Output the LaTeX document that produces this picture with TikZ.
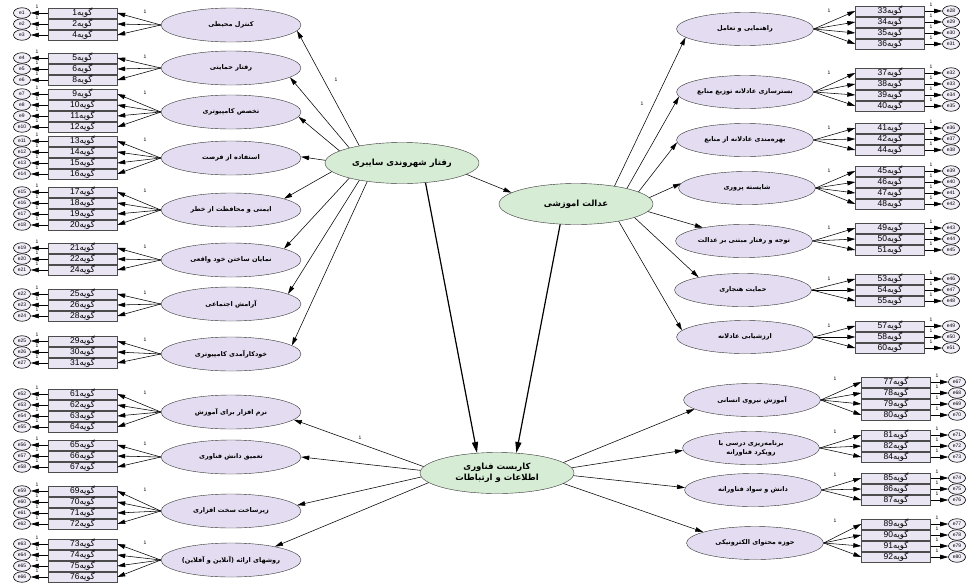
\documentclass[tikz,border=0pt]{standalone}
\usepackage{fontspec}
\setmainfont{Liberation Sans}
\newfontfamily\farsi[Script=Arabic]{DejaVu Sans}
\TeXXeTstate=1
\usetikzlibrary{shapes.geometric,arrows.meta}
\definecolor{latfill}{RGB}{228,221,241}
\definecolor{mainfill}{RGB}{214,236,212}
\definecolor{boxfill}{RGB}{234,229,243}
\definecolor{errfill}{RGB}{242,238,248}
\newcommand{\gv}[1]{#1{\farsi\beginR گویه\endR}}
\newcommand{\fz}[1]{\makebox[0pt]{\farsi\bfseries\beginR #1\endR}}
\tikzset{
  obs/.style={draw=black!70, fill=boxfill, minimum width=69pt, minimum height=10pt, inner sep=0pt, font=\fontsize{8.5}{8.5}\selectfont},
  err/.style={ellipse, draw, line width=0.6pt, fill=errfill, minimum width=17pt, minimum height=10.5pt, inner sep=0pt, font=\fontsize{5}{5}\selectfont},
  latL/.style={ellipse, draw=black!80, fill=latfill, minimum width=140pt, minimum height=34pt, inner sep=0pt, font=\fontsize{6.5}{9}\selectfont, align=center},
  latR/.style={latL, minimum width=137pt, minimum height=33pt},
  main/.style={ellipse, draw=black!80, fill=mainfill, minimum width=154pt, minimum height=41pt, inner sep=0pt, font=\fontsize{8.5}{11}\selectfont, align=center},
  arr/.style={-{Triangle[length=8pt,width=4.5pt]}, line width=0.55pt},
  big/.style={-{Triangle[length=11pt,width=6pt]}, line width=1.2pt},
  one/.style={font=\fontsize{5}{5}\selectfont, inner sep=0pt}
}
\begin{document}
\begin{tikzpicture}[x=1pt,y=-1pt]
\useasboundingbox (0,0) rectangle (973,584);
% latent variables
\node[main] (cyber) at (402,163) {\fz{رفتار شهروندی سایبری}};
\node[main] (edu) at (576,204) {\fz{عدالت اموزشی}};
\node[main] (ict) at (497,473) {\fz{کاربست فناوری}\\\fz{اطلاعات و ارتباطات}};

\node[latL] (l1) at (231,25) {\fz{کنترل محیطی}};
\node[latL] (l2) at (231,68) {\fz{رفتار حمایتی}};
\node[latL] (l3) at (231,112) {\fz{تخصص کامپیوتری}};
\node[latL] (l4) at (231,158) {\fz{استفاده از فرصت}};
\node[latL] (l5) at (231,210) {\fz{ایمنی و محافظت از خطر}};
\node[latL] (l6) at (231,260) {\fz{نمایان ساختن خود واقعی}};
\node[latL] (l7) at (231,304) {\fz{آرامش اجتماعی}};
\node[latL] (l8) at (231,354) {\fz{خودکارآمدی کامپیوتری}};
\node[latL] (l9) at (231,412) {\fz{نرم افزار برای آموزش}};
\node[latL] (l10) at (231,457) {\fz{تعمیق دانش فناوری}};
\node[latL] (l11) at (231,511) {\fz{زیرساخت سخت افزاری}};
\node[latL] (l12) at (231,560) {\fz{روشهای ارائه (آنلاین و آفلاین)}};

\node[latR] (r1) at (745,29) {\fz{راهنمایی و تعامل}};
\node[latR] (r2) at (745,92) {\fz{بسترسازی عادلانه توزیع منابع}};
\node[latR] (r3) at (745,140) {\fz{بهره‌مندی عادلانه از منابع}};
\node[latR] (r4) at (747,188) {\fz{شایسته پروری}};
\node[latR] (r5) at (744,241) {\fz{توجه و رفتار مبتنی بر عدالت}};
\node[latR] (r6) at (743,290) {\fz{حمایت هنجاری}};
\node[latR] (r7) at (745,337) {\fz{ارزشیابی عادلانه}};
\node[latR] (r8) at (752,400) {\fz{آموزش نیروی انسانی}};
\node[latR] (r9) at (751,448) {\fz{برنامه‌ریزی درسی با}\\\fz{رویکرد فناورانه}};
\node[latR] (r10) at (753,490) {\fz{دانش و سواد فناورانه}};
\node[latR] (r11) at (755,543) {\fz{حوزه محتوای الکترونیکی}};

% structural paths
\draw[arr] (cyber.158) -- (l1.-5);
\draw[arr] (cyber.164) -- (l2.-9);
\draw[arr] (cyber.169) -- (l3.-4);
\draw[arr] (cyber.178) -- (l4.1);
\draw[arr] (cyber.187) -- (l5.12);
\draw[arr] (cyber.196) -- (l6.12);
\draw[arr] (cyber.202) -- (l7.10);
\draw[arr] (cyber.208) -- (l8.8);
\node[one] at (336,80) {1};
\draw[arr] (cyber.-10) -- (edu.170);
\draw[big] (cyber.-40) -- (ict.135);
\draw[big] (edu.-128) -- (ict.46);

\draw[arr] (edu.25) -- (r1.188);
\draw[arr] (edu.17) -- (r2.184);
\draw[arr] (edu.11) -- (r3.182);
\draw[arr] (edu.5) -- (r4.176);
\draw[arr] (edu.-6) -- (r5.162);
\draw[arr] (edu.-13) -- (r6.164);
\draw[arr] (edu.-22) -- (r7.174);
\node[one] at (642,104) {1};

\draw[arr] (ict.175) -- (l9.-7);
\draw[arr] (ict.178) -- (l10.0);
\draw[arr] (ict.183) -- (l11.5);
\draw[arr] (ict.188) -- (l12.17);
\node[one] at (360,438) {1};

\draw[arr] (ict.9) -- (r8.189);
\draw[arr] (ict.4) -- (r9.182);
\draw[arr] (ict.-2) -- (r10.178);
\draw[arr] (ict.-9) -- (r11.168);

% items, left side
\foreach \n/\e/\y/\l in {1/1/13/l1, 2/2/24/l1, 4/3/35/l1,
    5/4/58/l2, 6/5/69/l2, 8/6/80/l2,
    9/7/94/l3, 10/8/105/l3, 11/9/116/l3, 12/10/127/l3,
    13/11/141/l4, 14/12/152/l4, 15/13/163/l4, 16/14/174/l4,
    17/15/192/l5, 18/16/203/l5, 19/17/214/l5, 20/18/225/l5,
    21/19/248/l6, 22/20/259/l6, 24/21/270/l6,
    25/22/294/l7, 26/23/305/l7, 28/24/316/l7,
    29/25/341/l8, 30/26/352/l8, 31/27/363/l8,
    61/52/394/l9, 62/53/405/l9, 63/54/416/l9, 64/55/427/l9,
    65/56/445/l10, 66/57/456/l10, 67/58/467/l10,
    69/59/491/l11, 70/60/502/l11, 71/61/513/l11, 72/62/524/l11,
    73/63/544/l12, 74/64/555/l12, 75/65/566/l12, 76/66/577/l12}{
  \node[obs] (b\n) at (82.5,\y) {\gv{\n}};
  \node[err] (e\e) at (22,\y) {e\e};
  \draw[arr] (b\n) -- (e\e);
  \draw[arr] (\l.west) -- (b\n.east);
  \node[one] at (37,\y-6) {1};
}
\foreach \y in {13,58,94,141,192,248,294,341,394,445,491,544}
  \node[one] at (145,\y-1) {1};

% items, right side
\foreach \n/\e/\y/\r in {33/28/11/r1, 34/29/22/r1, 35/30/33/r1, 36/31/44/r1,
    37/32/73/r2, 38/33/84/r2, 39/34/95/r2, 40/35/106/r2,
    41/36/128/r3, 42/37/139/r3, 44/38/150/r3,
    45/39/171/r4, 46/40/182/r4, 47/41/193/r4, 48/42/204/r4,
    49/43/228/r5, 50/44/239/r5, 51/45/250/r5,
    53/46/279/r6, 54/47/290/r6, 55/48/301/r6,
    57/49/326/r7, 58/50/337/r7, 60/51/348/r7}{
  \node[obs] (b\n) at (890,\y) {\gv{\n}};
  \node[err] (e\e) at (951,\y) {e\e};
  \draw[arr] (b\n) -- (e\e);
  \draw[arr] (\r.east) -- (b\n.west);
  \node[one] at (931,\y-6) {1};
}
\foreach \n/\e/\y/\r in {77/67/382/r8, 78/68/393/r8, 79/69/404/r8, 80/70/415/r8,
    81/71/435/r9, 82/72/446/r9, 84/73/457/r9,
    85/74/478/r10, 86/75/489/r10, 87/76/500/r10,
    89/77/524/r11, 90/78/535/r11, 91/79/546/r11, 92/80/557/r11}{
  \node[obs] (b\n) at (896,\y) {\gv{\n}};
  \node[err] (e\e) at (957,\y) {e\e};
  \draw[arr] (b\n) -- (e\e);
  \draw[arr] (\r.east) -- (b\n.west);
  \node[one] at (937,\y-6) {1};
}
\foreach \y in {11,73,128,171,228,279,326}
  \node[one] at (829,\y) {1};
\foreach \y in {382,435,478,524}
  \node[one] at (835,\y-3) {1};
\end{tikzpicture}
\end{document}
